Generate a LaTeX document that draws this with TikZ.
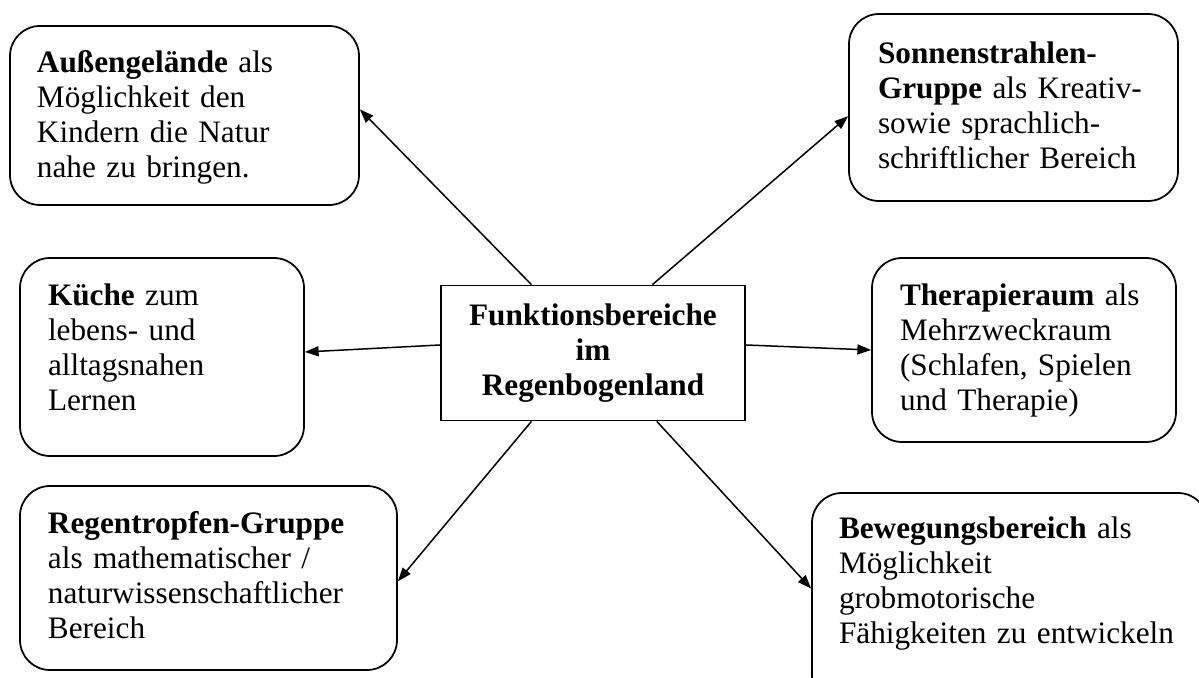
\documentclass[tikz,border=0pt]{standalone}
\usepackage{fontspec}
\setmainfont{Liberation Serif}
\usepackage{tikz}
\usetikzlibrary{arrows.meta, positioning}

\begin{document}
\begin{tikzpicture}[x=0.4pt, y=-0.4pt,
  area/.style={draw, line width=0.7pt, rounded corners=12pt, align=left, inner sep=2pt,
    font=\fontsize{12.5pt}{14pt}\selectfont},
  hub/.style={draw, line width=0.7pt, align=center, inner sep=2pt,
    font=\fontsize{12.5pt}{14pt}\selectfont\bfseries},
  link/.style={line width=0.6pt, -{Triangle[length=5.5pt, width=4pt]}}]
  \useasboundingbox (0,0) rectangle (1199,678);
  \clip (0,0) rectangle (1199,678);

  % centre
  \node[hub, minimum width=121.6pt, minimum height=54pt] (hub) at (593,353)
    {Funktionsbereiche\\ im\\ Regenbogenland};

  % areas
  \node[area, minimum width=139.6pt, minimum height=71.6pt, text width=118pt] (aussen) at (184.5,115.5)
    {\rule{0pt}{10.5pt}\textbf{Außengelände} als\\ Möglichkeit den\\ Kindern die Natur\\ nahe zu bringen.};
  \node[area, minimum width=131.6pt, minimum height=74.8pt, text width=108.4pt] (sonne) at (1013.5,107.5)
    {\textbf{Sonnenstrahlen-}\\ \textbf{Gruppe} als Kreativ-\\ sowie sprachlich-\\ schriftlicher Bereich\rule[-1.5pt]{0pt}{1.5pt}};
  \node[area, minimum width=113.6pt, minimum height=79.2pt, text width=91.2pt] (kueche) at (162,357)
    {\textbf{Küche} zum\\ lebens- und\\ alltagsnahen\\ Lernen\rule[-8pt]{0pt}{8pt}};
  \node[area, minimum width=121.6pt, minimum height=73.6pt, text width=99.2pt] (therapie) at (1024,350)
    {\textbf{Therapieraum} als\\ Mehrzweckraum\\ (Schlafen, Spielen\\ und Therapie)};
  \node[area, minimum width=150.8pt, minimum height=73.6pt, text width=128.4pt] (regen) at (208.5,578)
    {\textbf{Regentropfen-Gruppe}\\ als mathematischer /\\ naturwissenschaftlicher\\ Bereich\rule[-2.4pt]{0pt}{2.4pt}};
  \node[area, minimum width=158.4pt, minimum height=84.8pt, text width=136.8pt] (bewegung) at (1010,599)
    {\textbf{Bewegungsbereich} als\\ Möglichkeit\\ grobmotorische\\ Fähigkeiten zu entwickeln\rule[-15pt]{0pt}{15pt}};

  % arrows
  \draw[link] (hub.132) -- (aussen.2);
  \draw[link] (hub.49) -- (sonne.183);
  \draw[link] (hub.177) -- (kueche.2);
  \draw[link] (hub.3) -- (therapie.180);
  \draw[link] (hub.228) -- (regen.359);
  \draw[link] (hub.313) -- (bewegung.177);
\end{tikzpicture}
\end{document}
